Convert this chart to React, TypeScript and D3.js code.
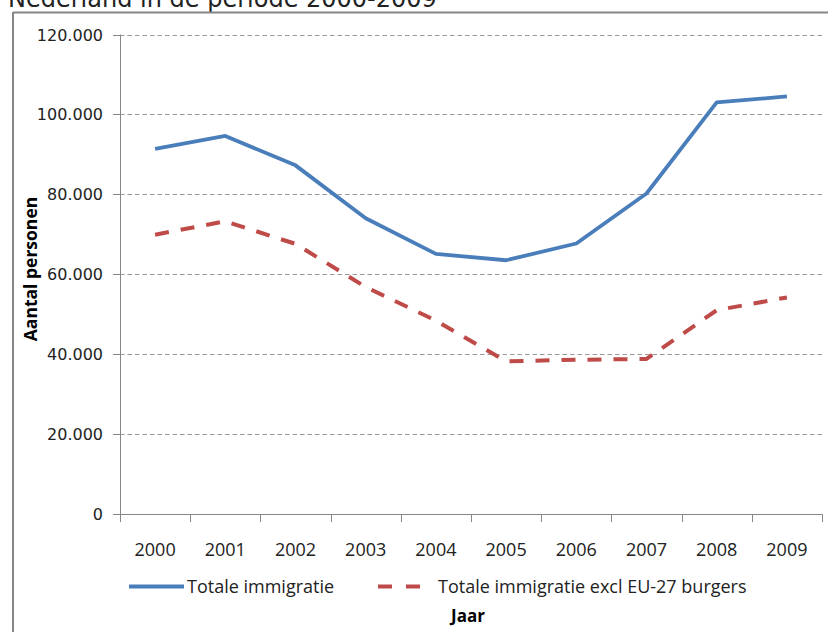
import React from "react";
import * as d3 from "d3";

const years = ["2000", "2001", "2002", "2003", "2004", "2005", "2006", "2007", "2008", "2009"];
const totale = [91400, 94600, 87250, 74000, 65100, 63500, 67700, 80200, 103000, 104500];
const exclEU = [69900, 73250, 67600, 56800, 48400, 38200, 38600, 38800, 51000, 54200];
const yTicks = [0, 20000, 40000, 60000, 80000, 100000, 120000];
const seriesNames = ["Totale immigratie", "Totale immigratie excl EU-27 burgers"];
const title = "Nederland in de periode 2000-2009";

const W = 828;
const H = 632;
const left = 120;
const right = 822;
const top = 34.5;
const bottom = 514;

export default function App() {
  const x = d3.scalePoint<string>().domain(years).range([left, right]).padding(0.5);
  const band = (right - left) / years.length;
  const y = d3.scaleLinear().domain([0, 120000]).range([bottom, top]);
  const line = d3
    .line<number>()
    .x((_, i) => x(years[i]) as number)
    .y((d) => y(d));
  const fmt = (v: number) => (v === 0 ? "0" : d3.format(",")(v).replace(/,/g, "."));
  const axisColor = "#868686";
  const blue = "#4A7EBB";
  const red = "#BE4B48";
  const font = "'Open Sans', sans-serif";

  return (
    <svg
      width={W}
      height={H}
      style={{ position: "absolute", left: 0, top: 0, background: "#fff" }}
    >
      <rect x={0} y={0} width={W} height={H} fill="#fff" />
      <text x={8} y={7} fontFamily="'DejaVu Sans', sans-serif" fontSize={24} fill="#222">
        {title}
      </text>
      {/* frame */}
      <line x1={13} y1={12.5} x2={W} y2={12.5} stroke={axisColor} strokeWidth={2} />
      <line x1={13} y1={12} x2={13} y2={H} stroke={axisColor} strokeWidth={2} />
      {/* gridlines */}
      {yTicks
        .filter((t) => t > 0)
        .map((t) => (
          <line
            key={"g" + t}
            x1={left}
            x2={right}
            y1={Math.round(y(t)) + 0.5}
            y2={Math.round(y(t)) + 0.5}
            stroke="#9a9a9a"
            strokeWidth={1}
            strokeDasharray="4.5,3"
          />
        ))}
      {/* y axis */}
      <line x1={left + 0.5} x2={left + 0.5} y1={top} y2={bottom} stroke={axisColor} strokeWidth={1} />
      {yTicks.map((t) => (
        <g key={"y" + t}>
          <line
            x1={113}
            x2={left}
            y1={Math.round(y(t)) + 0.5}
            y2={Math.round(y(t)) + 0.5}
            stroke={axisColor}
          />
          <text
            x={103}
            y={y(t) + 6}
            textAnchor="end"
            fontFamily="'DejaVu Sans', sans-serif"
            fontSize={16}
            fill="#222"
          >
            {fmt(t)}
          </text>
        </g>
      ))}
      {/* x axis */}
      <line x1={left} x2={right} y1={bottom + 0.5} y2={bottom + 0.5} stroke={axisColor} />
      {d3.range(years.length + 1).map((i) => (
        <line
          key={"xt" + i}
          x1={Math.round(left + band * i) + 0.5}
          x2={Math.round(left + band * i) + 0.5}
          y1={bottom}
          y2={bottom + 8}
          stroke={axisColor}
        />
      ))}
      {years.map((yr) => (
        <text
          key={"xl" + yr}
          x={x(yr)}
          y={556}
          textAnchor="middle"
          fontFamily={font}
          fontSize={18}
          fill="#222"
        >
          {yr}
        </text>
      ))}
      {/* series */}
      <path d={line(totale) || ""} fill="none" stroke={blue} strokeWidth={3.8} strokeLinejoin="round" />
      <path
        d={line(exclEU) || ""}
        fill="none"
        stroke={red}
        strokeWidth={4}
        strokeDasharray="14,12"
        strokeLinejoin="round"
      />
      {/* axis titles */}
      <text
        transform="translate(37,269) rotate(-90)"
        textAnchor="middle"
        fontFamily={font}
        fontWeight="bold"
        fontSize={17.5}
        fill="#000"
      >
        Aantal personen
      </text>
      <text x={468} y={622} textAnchor="middle" fontFamily={font} fontWeight="bold" fontSize={17} fill="#000">
        Jaar
      </text>
      {/* legend */}
      <line x1={129} x2={184} y1={586.5} y2={586.5} stroke={blue} strokeWidth={3.8} />
      <text x={187} y={593} fontFamily={font} fontSize={18} fill="#222">
        {seriesNames[0]}
      </text>
      <line
        x1={378}
        x2={420}
        y1={586.5}
        y2={586.5}
        stroke={red}
        strokeWidth={4}
        strokeDasharray="14,14"
      />
      <text x={438} y={593} fontFamily={font} fontSize={18} fill="#222">
        {seriesNames[1]}
      </text>
    </svg>
  );
}
